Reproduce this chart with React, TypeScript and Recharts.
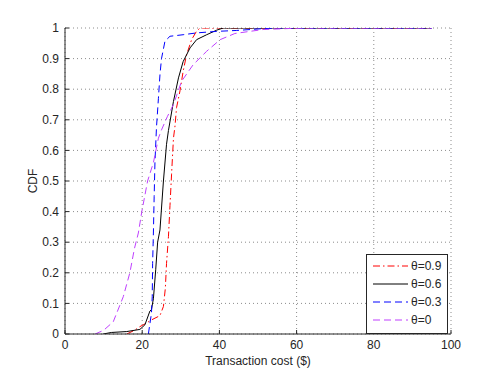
import { LineChart, Line, XAxis, YAxis, CartesianGrid, Legend, Label } from "recharts"

const X_TICKS = [0, 20, 40, 60, 80, 100]
const Y_TICKS = [0, 0.1, 0.2, 0.3, 0.4, 0.5, 0.6, 0.7, 0.8, 0.9, 1]

// θ=0.9
const T09_X = [16, 18, 19.4, 21, 22.4, 24.6, 25.5, 26, 26.3, 26.8, 27.2, 27.6, 28.1, 28.5, 28.9, 29.8, 30.6, 31.5, 32.8, 34.1, 35, 95]
const T09_Y = [0, 0.012, 0.024, 0.035, 0.046, 0.06, 0.09, 0.15, 0.23, 0.318, 0.42, 0.52, 0.64, 0.68, 0.74, 0.795, 0.858, 0.913, 0.962, 0.99, 1, 1]

// θ=0.6
const T06_X = [9.9, 12, 16, 19.4, 20.7, 22, 22.4, 22.9, 23.5, 24, 24.6, 25.5, 26.3, 26.8, 28.1, 29.4, 30.6, 32.4, 34.1, 36.7, 39.3, 41, 95]
const T06_Y = [0, 0.005, 0.008, 0.015, 0.03, 0.075, 0.08, 0.115, 0.21, 0.3, 0.34, 0.5, 0.62, 0.665, 0.76, 0.837, 0.89, 0.935, 0.962, 0.978, 0.993, 1, 1]

// θ=0.3
const T03_X = [21.6, 22.4, 22.6, 22.7, 22.9, 23.1, 23.3, 23.7, 24.2, 24.6, 25, 25.9, 27.2, 30.6, 34.1, 39.3, 44.5, 48, 51.3, 55, 95]
const T03_Y = [0, 0.068, 0.122, 0.23, 0.33, 0.45, 0.56, 0.675, 0.77, 0.847, 0.9, 0.957, 0.973, 0.978, 0.984, 0.989, 0.992, 0.995, 0.998, 1, 1]

// θ=0
const T0_X = [7.8, 10, 12.5, 15.1, 16.8, 18, 19, 19.9, 21.4, 22.9, 24.2, 25, 26.5, 28.1, 30.2, 33.2, 36.7, 40.2, 44, 47.9, 51.3, 57.4, 62, 95]
const T0_Y = [0, 0.012, 0.04, 0.122, 0.2, 0.28, 0.33, 0.4, 0.5, 0.56, 0.64, 0.667, 0.71, 0.75, 0.826, 0.88, 0.924, 0.962, 0.982, 0.989, 0.995, 0.998, 1, 1]

const toPoints = (xs: number[], ys: number[]) => xs.map((x, i) => ({ x, y: ys[i] }))

const SERIES = [
  { name: "θ=0.9", color: "#ff0000", dash: "7 3 1.5 3", data: toPoints(T09_X, T09_Y) },
  { name: "θ=0.6", color: "#000000", dash: undefined, data: toPoints(T06_X, T06_Y) },
  { name: "θ=0.3", color: "#0000ff", dash: "7 4", data: toPoints(T03_X, T03_Y) },
  { name: "θ=0", color: "#bf3fff", dash: "7 4", data: toPoints(T0_X, T0_Y) },
]

const FONT = "'Liberation Sans', Arial, Helvetica, sans-serif"
const AXIS = "#262626"
const tickStyle = { fontSize: 12, fill: AXIS, fontFamily: FONT }

const fmtY = (v: number) => (v === 0 || v === 1 ? String(v) : v.toFixed(1))

function LegendBox() {
  return (
    <div
      style={{
        border: `1px solid ${AXIS}`,
        background: "#fff",
        width: 80,
        height: 74,
        padding: "2px 0",
        boxSizing: "content-box",
        fontFamily: FONT,
        fontSize: 12,
        color: AXIS,
      }}
    >
      {SERIES.map((s) => (
        <div key={s.name} style={{ display: "flex", alignItems: "center", height: 18 }}>
          <svg width={44} height={18} style={{ display: "block" }}>
            <line x1={6} x2={41} y1={9} y2={9} stroke={s.color} strokeWidth={1} strokeDasharray={s.dash} />
          </svg>
          <span>{s.name}</span>
        </div>
      ))}
    </div>
  )
}

export default function App() {
  return (
    <div style={{ position: "absolute", left: 0, top: 0, background: "#fff" }}>
      <LineChart width={498} height={375} margin={{ top: 28, right: 47, left: 0, bottom: 0 }}>
        <CartesianGrid stroke="#8c8c8c" strokeDasharray="1 3" strokeWidth={1} />
        <XAxis
          type="number"
          dataKey="x"
          domain={[0, 100]}
          ticks={X_TICKS}
          allowDataOverflow
          height={41}
          stroke={AXIS}
          tickSize={-4}
          tickMargin={10}
          tick={tickStyle}
        >
          <Label value="Transaction cost ($)" position="insideBottom" offset={10} style={tickStyle} />
        </XAxis>
        <XAxis
          xAxisId="top"
          orientation="top"
          type="number"
          dataKey="x"
          domain={[0, 100]}
          ticks={X_TICKS}
          allowDataOverflow
          height={0}
          stroke={AXIS}
          tickSize={-4}
          tick={false}
        />
        <YAxis
          type="number"
          domain={[0, 1]}
          ticks={Y_TICKS}
          allowDataOverflow
          width={65}
          stroke={AXIS}
          tickSize={-4}
          tickMargin={10}
          tick={tickStyle}
          tickFormatter={fmtY}
        >
          <Label value="CDF" angle={-90} position="center" style={tickStyle} />
        </YAxis>
        <YAxis
          yAxisId="right"
          orientation="right"
          type="number"
          domain={[0, 1]}
          ticks={Y_TICKS}
          allowDataOverflow
          width={0}
          stroke={AXIS}
          tickSize={-4}
          tick={false}
        />
        {SERIES.map((s) => (
          <Line
            key={s.name}
            data={s.data}
            dataKey="y"
            name={s.name}
            type="linear"
            stroke={s.color}
            strokeWidth={1}
            strokeDasharray={s.dash}
            dot={false}
            activeDot={false}
            isAnimationActive={false}
          />
        ))}
        <Legend
          layout="vertical"
          align="center"
          verticalAlign="middle"
          content={() => <LegendBox />}
          wrapperStyle={{ left: 366, top: 254, width: 82, height: 78 }}
        />
      </LineChart>
    </div>
  )
}
